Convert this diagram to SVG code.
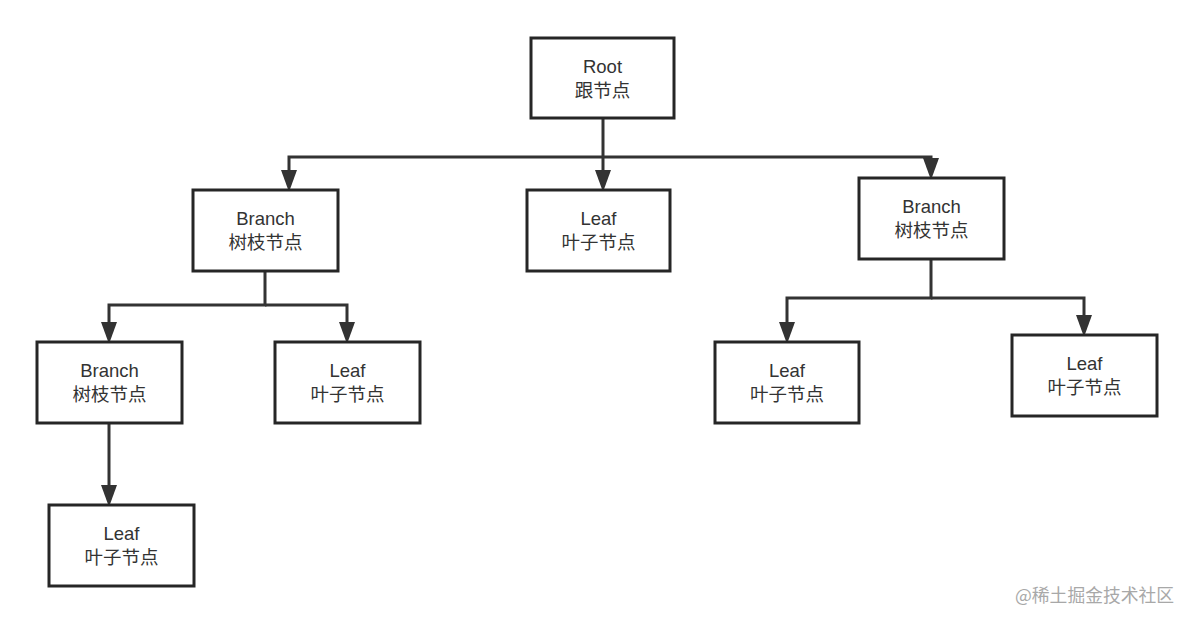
<svg xmlns="http://www.w3.org/2000/svg" width="1194" height="624" viewBox="0 0 1194 624">
<style>
.box{fill:#fff;stroke:#262626;stroke-width:3}
.t{font-family:"Helvetica Neue","Liberation Sans","Noto Sans CJK SC",sans-serif;font-size:18.5px;fill:#333;text-anchor:middle}
.c{fill:none;stroke:#333;stroke-width:3}
.a{fill:#333}
.wm{font-family:"Noto Sans CJK SC",sans-serif;font-size:17.8px;fill:#a8a8a8}
</style>
<rect width="1194" height="624" fill="#fff"/>
<g id="connectors">
<path class="c" d="M603,118 V157"/>
<path class="c" d="M603,157 H289 V172"/>
<path class="a" d="M281,170 H297 L289,192 Z"/>
<path class="c" d="M603,157 V172"/>
<path class="a" d="M595,170 H611 L603,192 Z"/>
<path class="c" d="M603,157 H931 V160"/>
<path class="a" d="M923,158 H939 L931,180 Z"/>
<path class="c" d="M265,271 V305 H109 V324"/>
<path class="a" d="M101,322 H117 L109,344 Z"/>
<path class="c" d="M265,305 H347 V324"/>
<path class="a" d="M339,322 H355 L347,344 Z"/>
<path class="c" d="M931,259 V298 H787 V324"/>
<path class="a" d="M779,322 H795 L787,344 Z"/>
<path class="c" d="M931,298 H1084 V317"/>
<path class="a" d="M1076,315 H1092 L1084,337 Z"/>
<path class="c" d="M109,423 V487"/>
<path class="a" d="M101,485 H117 L109,507 Z"/>
</g>
<g id="root"><rect class="box" x="531" y="38" width="143" height="80"/><text class="t" x="602.5" y="73">Root</text><text class="t" x="602.5" y="97">跟节点</text></g>
<g id="branch1"><rect class="box" x="193" y="190" width="145" height="81"/><text class="t" x="265.5" y="225">Branch</text><text class="t" x="265.5" y="249">树枝节点</text></g>
<g id="leaf-mid"><rect class="box" x="527" y="190" width="143" height="81"/><text class="t" x="598.5" y="225">Leaf</text><text class="t" x="598.5" y="249">叶子节点</text></g>
<g id="branch-right"><rect class="box" x="859" y="178" width="145" height="81"/><text class="t" x="931.5" y="213">Branch</text><text class="t" x="931.5" y="237">树枝节点</text></g>
<g id="branch2"><rect class="box" x="37" y="342" width="145" height="81"/><text class="t" x="109.5" y="377">Branch</text><text class="t" x="109.5" y="401">树枝节点</text></g>
<g id="leaf-b1"><rect class="box" x="275" y="342" width="145" height="81"/><text class="t" x="347.5" y="377">Leaf</text><text class="t" x="347.5" y="401">叶子节点</text></g>
<g id="leaf-r1"><rect class="box" x="715" y="342" width="144" height="81"/><text class="t" x="787" y="377">Leaf</text><text class="t" x="787" y="401">叶子节点</text></g>
<g id="leaf-r2"><rect class="box" x="1012" y="335" width="145" height="81"/><text class="t" x="1084.5" y="370">Leaf</text><text class="t" x="1084.5" y="394">叶子节点</text></g>
<g id="leaf-b2"><rect class="box" x="49" y="505" width="145" height="81"/><text class="t" x="121.5" y="540">Leaf</text><text class="t" x="121.5" y="564">叶子节点</text></g>
<text class="wm" x="1015" y="602">@稀土掘金技术社区</text>
</svg>
